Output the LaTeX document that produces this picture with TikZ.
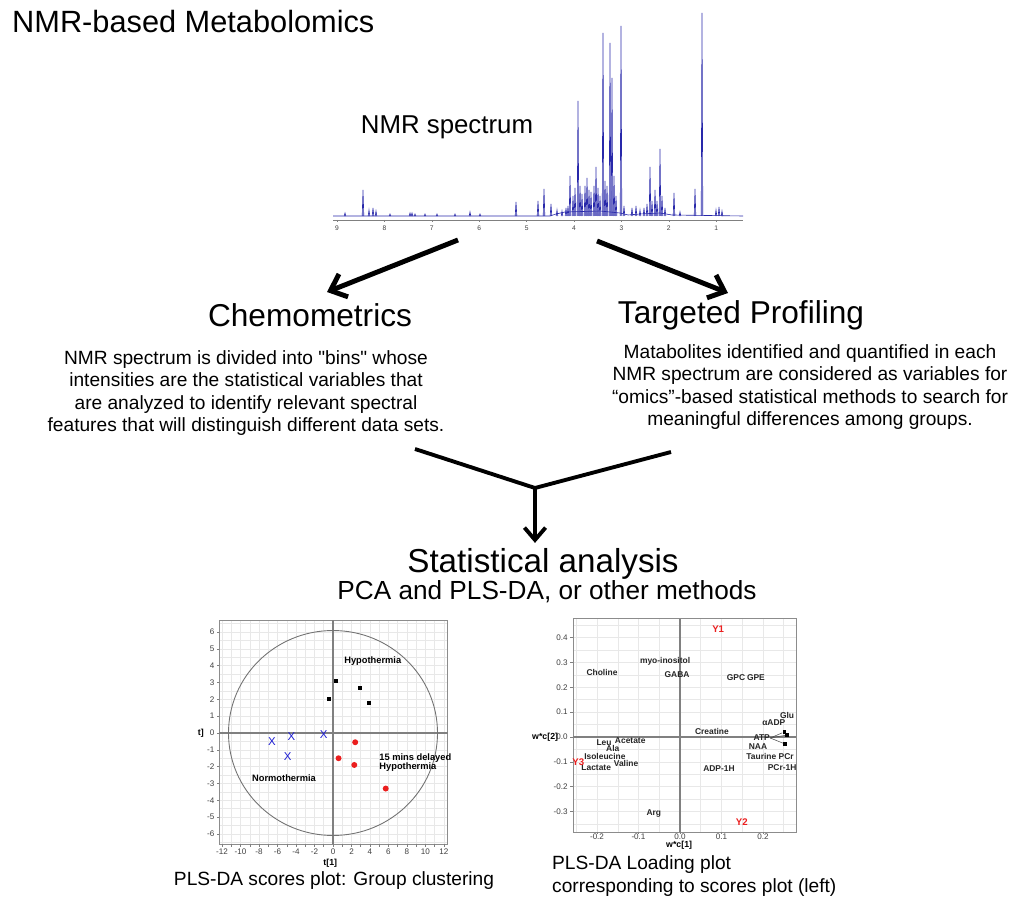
\documentclass[tikz,border=0pt]{standalone}
\usepackage{fontspec}
\setmainfont{Liberation Sans}[Ligatures=TeXOff]
\usetikzlibrary{arrows.meta}

\definecolor{specblue}{RGB}{40,40,170}
\definecolor{ptred}{RGB}{235,30,30}
\definecolor{ptblue}{RGB}{30,30,210}

\tikzset{
  bigarrow/.style={line width=2.8pt, -{Straight Barb[length=8pt,width=14pt]}},
  flowline/.style={line width=2.2pt},
  flowarrow/.style={line width=2.2pt, -{Straight Barb[length=7pt,width=12pt]}},
  peak/.style={draw=specblue, line width=0.35pt},
  frame/.style={draw=black!45, line width=0.5pt},
  gridline/.style={draw=black!9, line width=0.3pt},
  zeroline/.style={draw=black!50, line width=0.6pt},
  ticklbl/.style={font=\fontsize{4.6}{5}\selectfont, text=black!75, inner sep=1pt},
  grplbl/.style={font=\bfseries\fontsize{5.3}{6}\selectfont, inner sep=0pt},
  varlbl/.style={font=\bfseries\fontsize{4.8}{5.5}\selectfont, text=black!85, inner sep=0pt},
  ylbl/.style={font=\bfseries\fontsize{5.5}{6}\selectfont, text=ptred, inner sep=0pt},
  sqmark/.style={fill=black, minimum size=2.2pt, inner sep=0pt},
  dotmark/.style={circle, fill=ptred, minimum size=3.4pt, inner sep=0pt},
  xmark/.style={font=\fontsize{6.5}{6.5}\selectfont, text=ptblue, inner sep=0pt},
  heading/.style={font=\fontsize{18}{21}\selectfont},
  bodytxt/.style={font=\fontsize{10.9}{12.8}\selectfont, align=center},
  caption/.style={font=\fontsize{10.9}{12.8}\selectfont}
}

\begin{document}
\begin{tikzpicture}[x=0.02cm, y=-0.02cm]
  \useasboundingbox[fill=white] (0,0) rectangle (1024,911);

  % titles
  \node[anchor=west, font=\fontsize{17.5}{20}\selectfont] (title) at (6,22) {NMR-based Metabolomics};
  \node[font=\fontsize{14.7}{17}\selectfont] (spectxt) at (447,127) {NMR spectrum};

  % spectrum
  \draw[peak] (333,216) -- (550,216) -- (556,214) -- (565,212) -- (600,211) -- (620,213)
    -- (628,215) -- (640,214) -- (660,213) -- (672,215) -- (743,216);
  \foreach \px/\h in {345/3, 363/26, 369/6, 373/8, 376/5, 390/2, 410/3, 412/3, 415/2, 425/2,
      437/2, 455/2, 470/4, 480/2, 516/14, 538/15, 544/27, 551/12, 557/6, 562/5, 566/8,
      568/10, 570/40, 573/20, 575/28, 578/115, 580/30, 582/22, 585/30, 587/38, 589/26,
      591/24, 594/30, 596/49, 598/28, 600/20, 603/183, 605/35, 607/30, 610/173, 612/138,
      614/40, 616/20, 621/190, 624/10, 632/8, 636/10, 640/6, 644/8, 647/12, 650/49,
      652/15, 655/26, 657/15, 660/67, 662/20, 665/8, 674/23, 680/4, 695/27, 702/203,
      716/6, 719/9, 722/5}
    \draw[peak] (\px-0.8,216) -- (\px,216-\h) -- (\px+0.8,216);
  \draw[black!50, line width=0.4pt] (333,220) -- (743,220);
  \foreach \p in {1,...,9} {
    \draw[black!50, line width=0.3pt] (337+47.4*9-47.4*\p,220) -- ++(0,2);
    \node[ticklbl, font=\fontsize{3.8}{4}\selectfont] (ppm\p) at (337+47.4*9-47.4*\p,228) {\p};
  }

  % top arrows
  \coordinate (s1) at (458,240);
  \coordinate (s2) at (597,241);
  \coordinate (e1) at (327,292);
  \coordinate (e2) at (728,293);
  \draw[bigarrow] (s1) -- (e1);
  \draw[bigarrow] (s2) -- (e2);

  % two approaches
  \node[heading] (chemo) at (310,315) {Chemometrics};
  \node[heading] (target) at (741,315) {Targeted Profiling};
  \node[bodytxt] (chemotxt) at (246,393) {NMR spectrum is divided into "bins" whose\\
    intensities are the statistical variables that\\
    are analyzed to identify relevant spectral\\
    features that will distinguish different data sets.};
  \node[bodytxt] (targettxt) at (810,387) {Matabolites identified and quantified in each\\
    NMR spectrum are considered as variables for\\
    “omics”-based statistical methods to search for\\
    meaningful differences among groups.};

  % merge
  \coordinate (m1) at (415,449);
  \coordinate (m2) at (671,452);
  \coordinate (mj) at (535,488);
  \node[font=\fontsize{18.9}{22}\selectfont, inner sep=0pt] (stat) at (543,564) {Statistical analysis};
  \node[font=\fontsize{14.9}{17}\selectfont, inner sep=0pt] (methods) at (547,592) {PCA and PLS-DA, or other methods};
  \draw[flowline, line join=miter] (m1) -- (mj) -- (m2);
  \draw[flowarrow] (mj) -- ([yshift=3pt]mj |- stat.north);

  % scores plot
  \begin{scope}[shift={(333,733)}, x=0.185cm, y=0.3366cm]
    \foreach \i in {-12,...,12}
      \draw[gridline] (\i,6.7) -- (\i,-6.6);
    \foreach \j in {-6.5,-6,...,6.5}
      \draw[gridline] (-12.3,\j) -- (12.4,\j);
    \draw[frame] (-12.3,-6.6) rectangle (12.4,6.7);
    \draw[zeroline] (-12.3,0) -- (12.4,0);
    \draw[zeroline] (0,-6.6) -- (0,6.7);
    \foreach \i in {-12,...,12}
      \draw[black!50, line width=0.3pt] (\i,-6.6) -- (\i,-6.75);
    \foreach \j in {-6,...,6} {
      \draw[black!50, line width=0.3pt] (-12.3,\j) -- (-12.55,\j);
      \node[ticklbl, anchor=east] (sy\j) at (-12.6,\j) {\j};
    }
    \foreach \i in {-12,-10,...,12}
      \node[ticklbl] (sx\i) at (\i,-7.05) {\i};
    \node[grplbl, font=\bfseries\fontsize{5}{6}\selectfont] (t1lbl) at (-0.3,-7.75) {t[1]};
    \node[grplbl, font=\bfseries\fontsize{5}{6}\selectfont] (t2lbl) at (-14.3,0) {t]};
    \draw[black!55, line width=0.5pt] (0,0) ellipse [x radius=11.3, y radius=6.09];
    % groups
    \node[sqmark] (h1) at (0.3,3.1) {};
    \node[sqmark] (h2) at (2.9,2.7) {};
    \node[sqmark] (h3) at (3.9,1.8) {};
    \node[sqmark] (h4) at (-0.4,2.0) {};
    \node[xmark] (n1) at (-6.6,-0.5) {X};
    \node[xmark] (n2) at (-4.5,-0.2) {X};
    \node[xmark] (n3) at (-1.0,-0.1) {X};
    \node[xmark] (n4) at (-4.9,-1.4) {X};
    \node[dotmark] (d1) at (2.4,-0.55) {};
    \node[dotmark] (d2) at (0.6,-1.5) {};
    \node[dotmark] (d3) at (2.3,-1.9) {};
    \node[dotmark] (d4) at (5.7,-3.3) {};
    \node[grplbl] (hypo) at (4.3,4.3) {Hypothermia};
    \node[grplbl] (normo) at (-5.3,-2.67) {Normothermia};
    \node[grplbl] (delay) at (8.9,-1.5) {15 mins delayed};
    \node[grplbl] (hypo2) at (8.1,-2.02) {Hypothermia};
  \end{scope}
  \node[caption] (scorecap) at (334,881) {PLS-DA scores plot: Group clustering};

  % loading plot
  \begin{scope}[shift={(680,737)}, x=8.3cm, y=4.972cm]
    \foreach \i in {-0.25,-0.2,...,0.26}
      \draw[gridline] (\i,0.475) -- (\i,-0.382);
    \foreach \j in {-0.35,-0.3,...,0.46}
      \draw[gridline] (-0.258,\j) -- (0.28,\j);
    \draw[frame] (-0.258,-0.382) rectangle (0.28,0.475);
    \draw[zeroline] (-0.258,0) -- (0.28,0);
    \draw[zeroline] (0,-0.382) -- (0,0.475);
    \foreach \j/\t in {0.4/0.4, 0.3/0.3, 0.2/0.2, 0.1/0.1, 0/0.0, -0.1/-0.1, -0.2/-0.2, -0.3/-0.3} {
      \draw[black!50, line width=0.3pt] (-0.258,\j) -- (-0.264,\j);
      \node[ticklbl, anchor=east] (ly\t) at (-0.266,\j) {\t};
    }
    \foreach \i/\t in {-0.2/-0.2, -0.1/-0.1, 0/0.0, 0.1/0.1, 0.2/0.2} {
      \draw[black!50, line width=0.3pt] (\i,-0.382) -- (\i,-0.39);
      \node[ticklbl] (lx\t) at (\i,-0.402) {\t};
    }
    \node[grplbl, font=\bfseries\fontsize{5}{6}\selectfont] (w1lbl) at (-0.002,-0.437) {w*c[1]};
    \node[grplbl, font=\bfseries\fontsize{5}{6}\selectfont] (w2lbl) at (-0.325,0) {w*c[2]};
    % variables
    \node[varlbl] (myo) at (-0.036,0.306) {myo-inositol};
    \node[varlbl] (cho) at (-0.188,0.261) {Choline};
    \node[varlbl] (gaba) at (-0.007,0.253) {GABA};
    \node[varlbl] (gpc) at (0.135,0.237) {GPC};
    \node[varlbl] (gpe) at (0.183,0.241) {GPE};
    \node[varlbl] (glu) at (0.258,0.088) {Glu};
    \node[varlbl] (aadp) at (0.226,0.058) {αADP};
    \node[varlbl] (cre) at (0.077,0.024) {Creatine};
    \node[varlbl] (atp) at (0.197,-0.004) {ATP};
    \node[varlbl] (naa) at (0.188,-0.040) {NAA};
    \node[varlbl] (tau) at (0.217,-0.080) {Taurine PCr};
    \node[varlbl] (pcr) at (0.246,-0.125) {PCr-1H};
    \node[varlbl] (adp) at (0.094,-0.129) {ADP-1H};
    \node[varlbl] (leu) at (-0.183,-0.022) {Leu};
    \node[varlbl] (ace) at (-0.120,-0.016) {Acetate};
    \node[varlbl] (ala) at (-0.162,-0.048) {Ala};
    \node[varlbl] (ile) at (-0.181,-0.080) {Isoleucine};
    \node[varlbl] (lac) at (-0.202,-0.125) {Lactate};
    \node[varlbl] (val) at (-0.130,-0.105) {Valine};
    \node[varlbl] (arg) at (-0.063,-0.306) {Arg};
    \node[ylbl] (y1) at (0.092,0.434) {Y1};
    \node[ylbl] (y2) at (0.149,-0.342) {Y2};
    \node[ylbl] (y3) at (-0.245,-0.100) {Y3};
    \node[sqmark, minimum size=1.8pt] (q1) at (0.251,0.020) {};
    \node[sqmark, minimum size=1.8pt] (q2) at (0.258,0.008) {};
    \node[sqmark, minimum size=1.8pt] (q3) at (0.253,-0.028) {};
    \draw[black!70, line width=0.3pt] (atp.east) -- (q1);
    \draw[black!70, line width=0.3pt] (atp.east) -- (q2);
    \draw[black!70, line width=0.3pt] (atp.east) -- (q3);
  \end{scope}
  \node[caption, anchor=west] (loadcap1) at (546,865) {PLS-DA Loading plot};
  \node[caption, anchor=west] (loadcap2) at (546,888) {corresponding to scores plot (left)};
\end{tikzpicture}
\end{document}
